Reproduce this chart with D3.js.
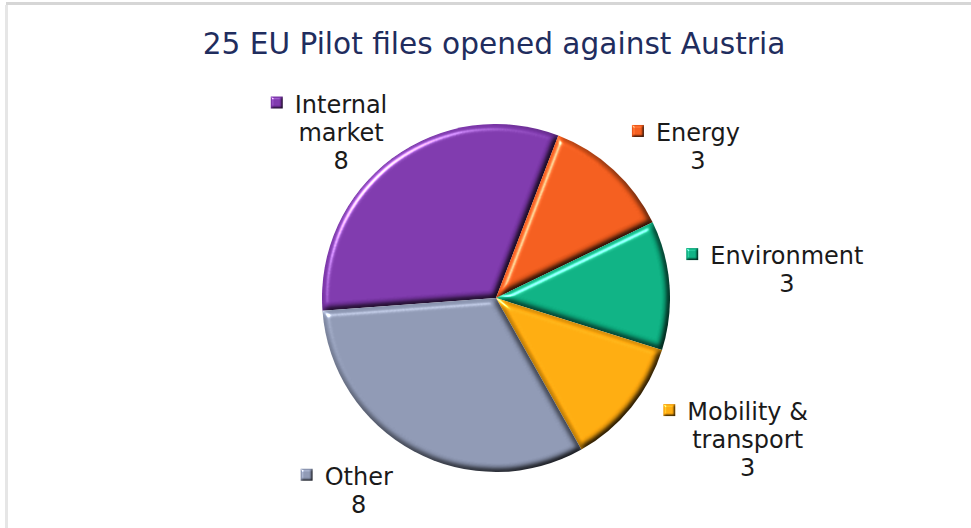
<!DOCTYPE html>
<html>
<head>
<meta charset="utf-8">
<script src="https://cdn.jsdelivr.net/npm/d3@7"></script>
<style>
	html, body { margin: 0; padding: 0; background: #fff; }
	svg { display: block; font-family: 'DejaVu Sans', Verdana, sans-serif; }
</style>
</head>
<body>
<div id="chart"></div>
<script>
// data
const title = '25 EU Pilot files opened against Austria';
const categories = ['Internal market', 'Energy', 'Environment', 'Mobility & transport', 'Other'];
const labelLines = [['Internal', 'market'], ['Energy'], ['Environment'], ['Mobility &', 'transport'], ['Other']];
const values = [8, 3, 3, 3, 8];
const colors = ['#7b36a9', '#ef5a1b', '#0bae80', '#fea80c', '#8b95b0'];

(() => {
	const width = 971;
	const height = 528;
	const cx = 496;
	const cy = 298;
	const radius = 174;
	const labelRadius = 200;
	const fontSize = 24;
	const lineHeight = 28;
	// small hand tweaks so the labels sit where excel put them
	const labelShift = [[-13, 28], [18, 16], [-9, -12], [28, -11], [-33, -9]];

	const svg = d3.select('#chart').append('svg')
		.attr('width', width)
		.attr('height', height);

	// bevel filter, light from top left
	const defs = svg.append('defs');
	const addBevel = (id, blur, scale) => {
		const f = defs.append('filter').attr('id', id)
			.attr('color-interpolation-filters', 'sRGB')
			.attr('x', '-5%').attr('y', '-5%').attr('width', '110%').attr('height', '110%');
		f.append('feGaussianBlur').attr('in', 'SourceAlpha').attr('stdDeviation', blur).attr('result', 'blur');
		f.append('feDiffuseLighting').attr('in', 'blur').attr('surfaceScale', scale)
			.attr('diffuseConstant', 1.155).attr('lighting-color', '#fff').attr('result', 'diff')
			.append('feDistantLight').attr('azimuth', 225).attr('elevation', 60);
		f.append('feComposite').attr('in', 'SourceGraphic').attr('in2', 'diff')
			.attr('operator', 'arithmetic').attr('k1', 1).attr('result', 'shaded');
		f.append('feSpecularLighting').attr('in', 'blur').attr('surfaceScale', scale)
			.attr('specularConstant', 0.8).attr('specularExponent', 30).attr('lighting-color', '#fff').attr('result', 'spec')
			.append('feDistantLight').attr('azimuth', 225).attr('elevation', 35);
		f.append('feComposite').attr('in', 'spec').attr('in2', 'SourceAlpha').attr('operator', 'in').attr('result', 'specOut');
		f.append('feComposite').attr('in', 'shaded').attr('in2', 'specOut')
			.attr('operator', 'arithmetic').attr('k2', 1).attr('k3', 1);
	};
	addBevel('bevel', 3, 5);
	addBevel('bevelSmall', 1.2, 2);

	// frame
	svg.append('line')
		.attr('x1', 6).attr('x2', width).attr('y1', 3.5).attr('y2', 3.5)
		.style('stroke', '#d6d6d6').style('stroke-width', 3);
	svg.append('line')
		.attr('x1', 6.5).attr('x2', 6.5).attr('y1', 5).attr('y2', height)
		.style('stroke', '#e6e6e6').style('stroke-width', 3);

	// title
	svg.append('text')
		.attr('x', 494)
		.attr('y', 54)
		.style('font-size', '29.6px')
		.style('fill', '#1f2d5e')
		.style('text-anchor', 'middle')
		.text(title);

	const data = categories.map((c, i) => ({ name: c, value: values[i], lines: labelLines[i], color: colors[i], idx: i }));

	const startAngle = -94.2 * Math.PI / 180;
	const pie = d3.pie()
		.sort(null)
		.value(d => d.value)
		.startAngle(startAngle)
		.endAngle(startAngle + 2 * Math.PI);

	const arc = d3.arc().innerRadius(0).outerRadius(radius);
	const arcs = pie(data);

	const g = svg.append('g').attr('transform', `translate(${cx}, ${cy})`);

	g.selectAll('.slice')
		.data(arcs)
		.enter().append('path')
		.attr('class', 'slice')
		.attr('d', arc)
		.style('fill', d => d.data.color)
		.attr('filter', 'url(#bevel)');

	// labels at outside end
	const labels = g.selectAll('.label')
		.data(arcs)
		.enter().append('g')
		.attr('class', 'label');

	labels.each(function(d) {
		const lg = d3.select(this);
		const lines = d.data.lines.concat([String(d.data.value)]);
		const texts = lines.map((t, i) => lg.append('text')
			.attr('x', 0)
			.attr('y', i * lineHeight + fontSize * 0.95)
			.style('font-size', fontSize + 'px')
			.style('fill', '#1a1a1a')
			.style('text-anchor', 'middle')
			.text(t));
		const widths = texts.map(t => t.node().getComputedTextLength());
		const marker = 12;
		const markerGap = 12;
		lg.append('rect')
			.attr('x', -widths[0] / 2 - markerGap - marker)
			.attr('y', fontSize * 0.95 - 16)
			.attr('width', marker)
			.attr('height', marker)
			.style('fill', d.data.color)
			.attr('filter', 'url(#bevelSmall)');
		const left = Math.min(-widths[0] / 2 - markerGap - marker, ...widths.map(w => -w / 2));
		const right = Math.max(...widths.map(w => w / 2));
		const w = right - left;
		const h = lines.length * lineHeight;
		const mid = (d.startAngle + d.endAngle) / 2;
		const dx = Math.sin(mid);
		const dy = -Math.cos(mid);
		const bx = dx * labelRadius + dx * w / 2;
		const by = dy * labelRadius + dy * h / 2;
		const shift = labelShift[d.data.idx];
		const ox = bx - (left + right) / 2 + shift[0];
		const oy = by - h / 2 + shift[1];
		lg.attr('transform', `translate(${ox}, ${oy})`);
	});
})();
</script>
</body>
</html>
